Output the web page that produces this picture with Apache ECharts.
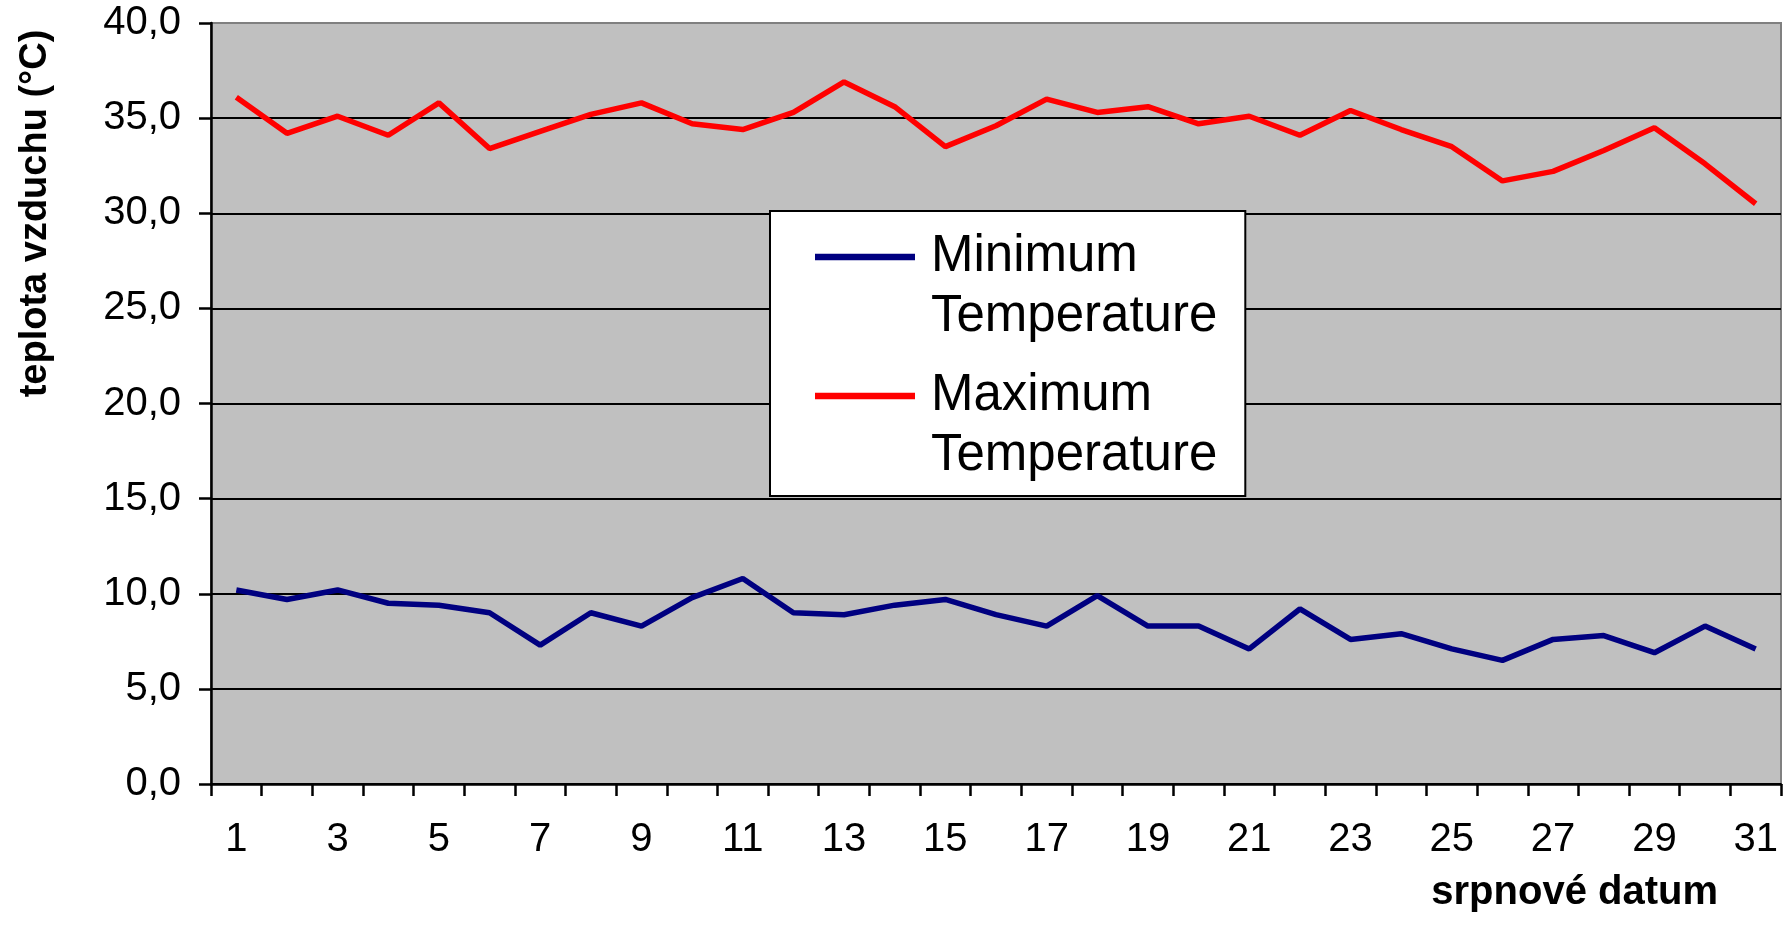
<!DOCTYPE html>
<html>
<head>
<meta charset="utf-8">
<script src="https://cdn.jsdelivr.net/npm/echarts@6/dist/echarts.min.js"></script>
<style>
html,body{margin:0;padding:0;background:#fff;}
#chart{width:1790px;height:945px;}
</style>
</head>
<body>
<div id="chart"></div>
<script>
const days = ['1','2','3','4','5','6','7','8','9','10','11','12','13','14','15','16','17','18','19','20','21','22','23','24','25','26','27','28','29','30','31'];
const minTemperature = [10.2, 9.7, 10.2, 9.5, 9.4, 9.0, 7.3, 9.0, 8.3, 9.8, 10.8, 9.0, 8.9, 9.4, 9.7, 8.9, 8.3, 9.9, 8.3, 8.3, 7.1, 9.2, 7.6, 7.9, 7.1, 6.5, 7.6, 7.8, 6.9, 8.3, 7.1];
const maxTemperature = [36.1, 34.2, 35.1, 34.1, 35.8, 33.4, 34.3, 35.2, 35.8, 34.7, 34.4, 35.3, 36.9, 35.6, 33.5, 34.6, 36.0, 35.3, 35.6, 34.7, 35.1, 34.1, 35.4, 34.4, 33.5, 31.7, 32.2, 33.3, 34.5, 32.6, 30.5];
const yTickLabels = ['0,0','5,0','10,0','15,0','20,0','25,0','30,0','35,0','40,0'];
const seriesNames = ['Minimum Temperature', 'Maximum Temperature'];
const seriesColors = ['#000080', '#FF0000'];

const FONT = 'Liberation Sans, Arial, sans-serif';
const legendIcon = 'path://M0,0h0.01v0.01h-0.01z M0,26.7h100v6.6h-100z M99.99,119.99h0.01v0.01h-0.01z';

const chart = echarts.init(document.getElementById('chart'), null, {renderer: 'canvas'});
chart.setOption({
  backgroundColor: '#ffffff',
  animation: false,
  grid: {
    left: 211, right: 9, top: 23, bottom: 161,
    show: true, backgroundColor: '#C0C0C0', borderColor: '#808080', borderWidth: 2
  },
  legend: {
    orient: 'vertical',
    left: 770, top: 211,
    padding: [16, 28, 10, 45],
    itemGap: 19,
    itemWidth: 100, itemHeight: 120,
    icon: legendIcon,
    symbolKeepAspect: false,
    backgroundColor: '#ffffff',
    borderColor: '#000000',
    borderWidth: 2,
    borderRadius: 0,
    itemStyle: {borderWidth: 0},
    data: seriesNames.map((n, i) => ({name: n, itemStyle: {color: seriesColors[i], borderWidth: 0}})),
    formatter: n => n.replace(' ', '\n'),
    textStyle: {fontFamily: FONT, fontSize: 51, lineHeight: 60, color: '#000000', padding: [0, 0, 0, 11]},
    selectedMode: false
  },
  xAxis: {
    type: 'category',
    data: days,
    boundaryGap: true,
    name: 'srpnové datum',
    nameLocation: 'end',
    nameGap: -63,
    nameTextStyle: {fontFamily: FONT, fontSize: 40, fontWeight: 'bold', color: '#000', align: 'right', verticalAlign: 'top', padding: [89, 0, 0, 0]},
    axisLine: {lineStyle: {color: '#000', width: 2.5}},
    axisTick: {show: true, interval: 0, length: 12, lineStyle: {color: '#000', width: 2.5}},
    axisLabel: {interval: 1, margin: 36, fontFamily: FONT, fontSize: 40, color: '#000'},
    splitLine: {show: false}
  },
  yAxis: {
    type: 'value',
    min: 0, max: 40, interval: 5,
    name: 'teplota vzduchu (°C)',
    nameLocation: 'middle',
    nameRotate: 90,
    nameGap: 156,
    nameTextStyle: {fontFamily: FONT, fontSize: 38, fontWeight: 'bold', color: '#000', padding: [0, 0, 0, 380]},
    axisLine: {show: true, lineStyle: {color: '#000', width: 2.5}},
    axisTick: {show: true, length: 12, lineStyle: {color: '#000', width: 2.5}},
    axisLabel: {margin: 30, fontFamily: FONT, fontSize: 40, color: '#000', formatter: v => yTickLabels[Math.round(v / 5)]},
    splitLine: {show: true, lineStyle: {color: ['#000','#000','#000','#000','#000','#000','#000','#000','#808080'], width: 2}}
  },
  series: [
    {name: seriesNames[0], type: 'line', data: minTemperature, showSymbol: false, symbol: 'none',
     lineStyle: {color: seriesColors[0], width: 5.5}, itemStyle: {color: seriesColors[0]}},
    {name: seriesNames[1], type: 'line', data: maxTemperature, showSymbol: false, symbol: 'none',
     lineStyle: {color: seriesColors[1], width: 5.5}, itemStyle: {color: seriesColors[1]}}
  ]
});
</script>
</body>
</html>
